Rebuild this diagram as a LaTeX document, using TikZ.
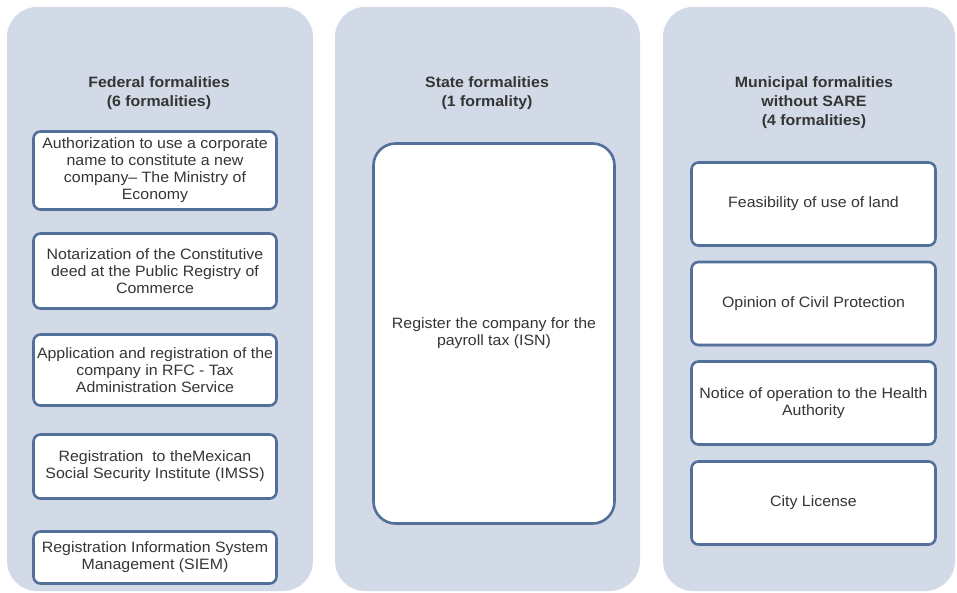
\documentclass[tikz,border=0pt]{standalone}
\usepackage{fontspec}
\setmainfont{Liberation Sans}[FakeStretch=1.06]
\usetikzlibrary{shadows}

\definecolor{panelfill}{HTML}{D3DAE7}
\definecolor{boxline}{HTML}{52709A}
\definecolor{textgray}{HTML}{353535}

\tikzset{
    panel/.style = {fill = panelfill, rounded corners = 30pt},
    formality/.style = {draw = boxline, fill = white, line width = 2.6pt,
        rounded corners = 7pt, align = center, inner sep = 0pt, text = textgray,
        drop shadow = {opacity = 0.25, shadow xshift = 0pt, shadow yshift = -1.5pt},
        font = \fontsize{15}{17}\selectfont},
    heading/.style = {align = center, text = textgray,
        font = \bfseries\fontsize{15}{19}\selectfont}
}

\begin{document}
\begin{tikzpicture}[x = 1pt, y = -1pt]
            \useasboundingbox (0, 0) rectangle (957, 592);

            % the three columns
            \fill[panel] (7, 7) rectangle (313, 591);
            \fill[panel] (335, 7) rectangle (640, 591);
            \fill[panel] (663, 7) rectangle (955, 591);

            % federal
            \node[heading] (fedhead) at (159, 93.5) {Federal formalities\\(6 formalities)};
            \node[formality, minimum width = 243pt, minimum height = 78pt] (fed1) at (155, 170.5)
                {Authorization to use a corporate\\name to constitute a new\\company-- The Ministry of\\Economy};
            \node[formality, minimum width = 243pt, minimum height = 75pt] (fed2) at (155, 271)
                {Notarization of the Constitutive\\deed at the Public Registry of\\Commerce};
            \node[formality, minimum width = 243pt, minimum height = 71pt] (fed3) at (155, 370)
                {Application and registration of the\\company in RFC - Tax\\Administration Service};
            \node[formality, minimum width = 243pt, minimum height = 64pt] (fed4) at (155, 466.5)
                {Registration\ \ to theMexican\\Social Security Institute (IMSS)};
            \node[formality, minimum width = 243pt, minimum height = 52pt] (fed5) at (155, 557.5)
                {Registration Information System\\Management (SIEM)};

            % state
            \node[heading] (statehead) at (487, 93.5) {State formalities\\(1 formality)};
            \node[formality, rounded corners = 22pt, minimum width = 241pt, minimum height = 380pt] (state1) at (494, 333.5)
                {Register the company for the\\payroll tax (ISN)};

            % municipal
            \node[heading] (munhead) at (814, 102.5) {Municipal formalities\\without SARE\\(4 formalities)};
            \node[formality, minimum width = 244pt, minimum height = 83pt] (mun1) at (813.5, 204)
                {Feasibility of use of land};
            \node[formality, minimum width = 244pt, minimum height = 83pt] (mun2) at (813.5, 303.5)
                {Opinion of Civil Protection};
            \node[formality, minimum width = 244pt, minimum height = 83pt] (mun3) at (813.5, 403)
                {Notice of operation to the Health\\Authority};
            \node[formality, minimum width = 244pt, minimum height = 83pt] (mun4) at (813.5, 503)
                {City License};
        \end{tikzpicture}
\end{document}
